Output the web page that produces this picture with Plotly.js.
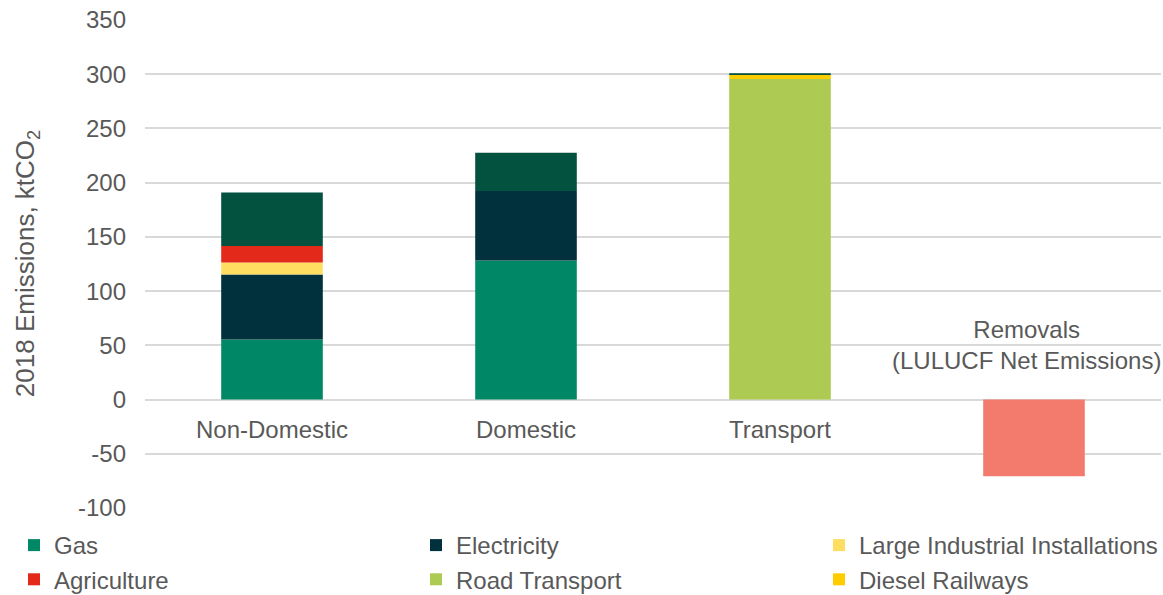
<!DOCTYPE html>
<html>
<head>
<meta charset="utf-8">
<script src="https://cdn.plot.ly/plotly-3.0.1.min.js"></script>
<style>html,body{margin:0;padding:0;background:#fff;}#chart{width:1163px;height:595px;}</style>
</head>
<body>
<div id="chart"></div>
<script>
const categories = ["Non-Domestic", "Domestic", "Transport", "Removals"];
const gas = [55.4, 128.3, 0, 0];
const electricity = [60.0, 64.0, 0, 0];
const largeIndustrial = [11.0, 0, 0, 0];
const agriculture = [15.2, 0, 0, 0];
const roadTransport = [0, 0, 295.5, 0];
const dieselRailways = [0, 0, 3.7, 0];
const otherFuels = [49.3, 35.4, 1.8, 0];
const removals = [0, 0, 0, -70.8];
const categoryLabels = ["Non-Domestic", "Domestic", "Transport", "Removals<br>(LULUCF Net Emissions)"];
const yTicks = [-100, -50, 0, 50, 100, 150, 200, 250, 300, 350];
const yTickText = ["-100", "-50", "0", "50", "100", "150", "200", "250", "300", "350"];
const yTitle = "2018 Emissions, ktCO<sub>2</sub>";

const FONT = "Liberation Sans, Arial, sans-serif";
const TXT = "#595959";
const FS = 24;

function bar(name, y, color, showlegend, legend) {
  return {type: "bar", name: name, x: categories, y: y, width: 0.4,
    marker: {color: color, line: {width: 0}}, showlegend: showlegend,
    legend: legend || "legend", hoverinfo: "name+y"};
}

const data = [
  bar("Gas", gas, "#008766", true, "legend"),
  bar("Electricity", electricity, "#00313C", true, "legend2"),
  bar("Large Industrial Installations", largeIndustrial, "#FFDD60", true, "legend3"),
  bar("Agriculture", agriculture, "#E3291A", true, "legend"),
  bar("Road Transport", roadTransport, "#ADCA52", true, "legend2"),
  bar("Diesel Railways", dieselRailways, "#FFCC00", true, "legend3"),
  bar("Other", otherFuels, "#03513F", false),
  bar("Removals", removals, "#F27B6D", false)
];

const annotations = categories.map((c, i) => {
  const neg = i === 3;
  return {x: c, y: 0, xref: "x", yref: "y", text: categoryLabels[i], showarrow: false,
    yanchor: neg ? "bottom" : "top", yshift: neg ? 24 : -14, xshift: neg ? -8 : 0,
    font: {family: FONT, size: FS, color: TXT}};
});
annotations.push({xref: "paper", yref: "paper", x: -0.117, y: 0.5, xanchor: "center", yanchor: "middle",
  textangle: -90, text: yTitle, showarrow: false, font: {family: FONT, size: 26, color: TXT}});

function legendAt(xPx) {
  return {orientation: "v", xref: "container", x: xPx / 1163, xanchor: "left",
    yref: "container", y: 0.121, yanchor: "top", traceorder: "normal", tracegroupgap: 0,
    itemwidth: 30, font: {family: FONT, size: FS, color: TXT}, bgcolor: "rgba(0,0,0,0)"};
}

const layout = {
  width: 1163, height: 595,
  margin: {l: 145, r: 2, t: 20, b: 87, autoexpand: false},
  paper_bgcolor: "#fff", plot_bgcolor: "#fff",
  barmode: "relative",
  font: {family: FONT, size: FS, color: TXT},
  xaxis: {showticklabels: false, showgrid: false, zeroline: false, showline: false, ticks: "",
    range: [-0.5, 3.5]},
  yaxis: {range: [-100, 350], tickvals: yTicks, ticktext: yTickText, showgrid: true, gridcolor: "#D9D9D9", gridwidth: 2,
    zeroline: true, zerolinecolor: "#D9D9D9", zerolinewidth: 2, showline: false, ticks: "",
    ticklabelstandoff: 18, automargin: false,
    tickfont: {family: FONT, size: FS, color: TXT}},
  legend: legendAt(14),
  legend2: legendAt(416),
  legend3: legendAt(819),
  annotations: annotations,
  showlegend: true
};

Plotly.newPlot("chart", data, layout, {displayModeBar: false, staticPlot: true});
</script>
</body>
</html>
